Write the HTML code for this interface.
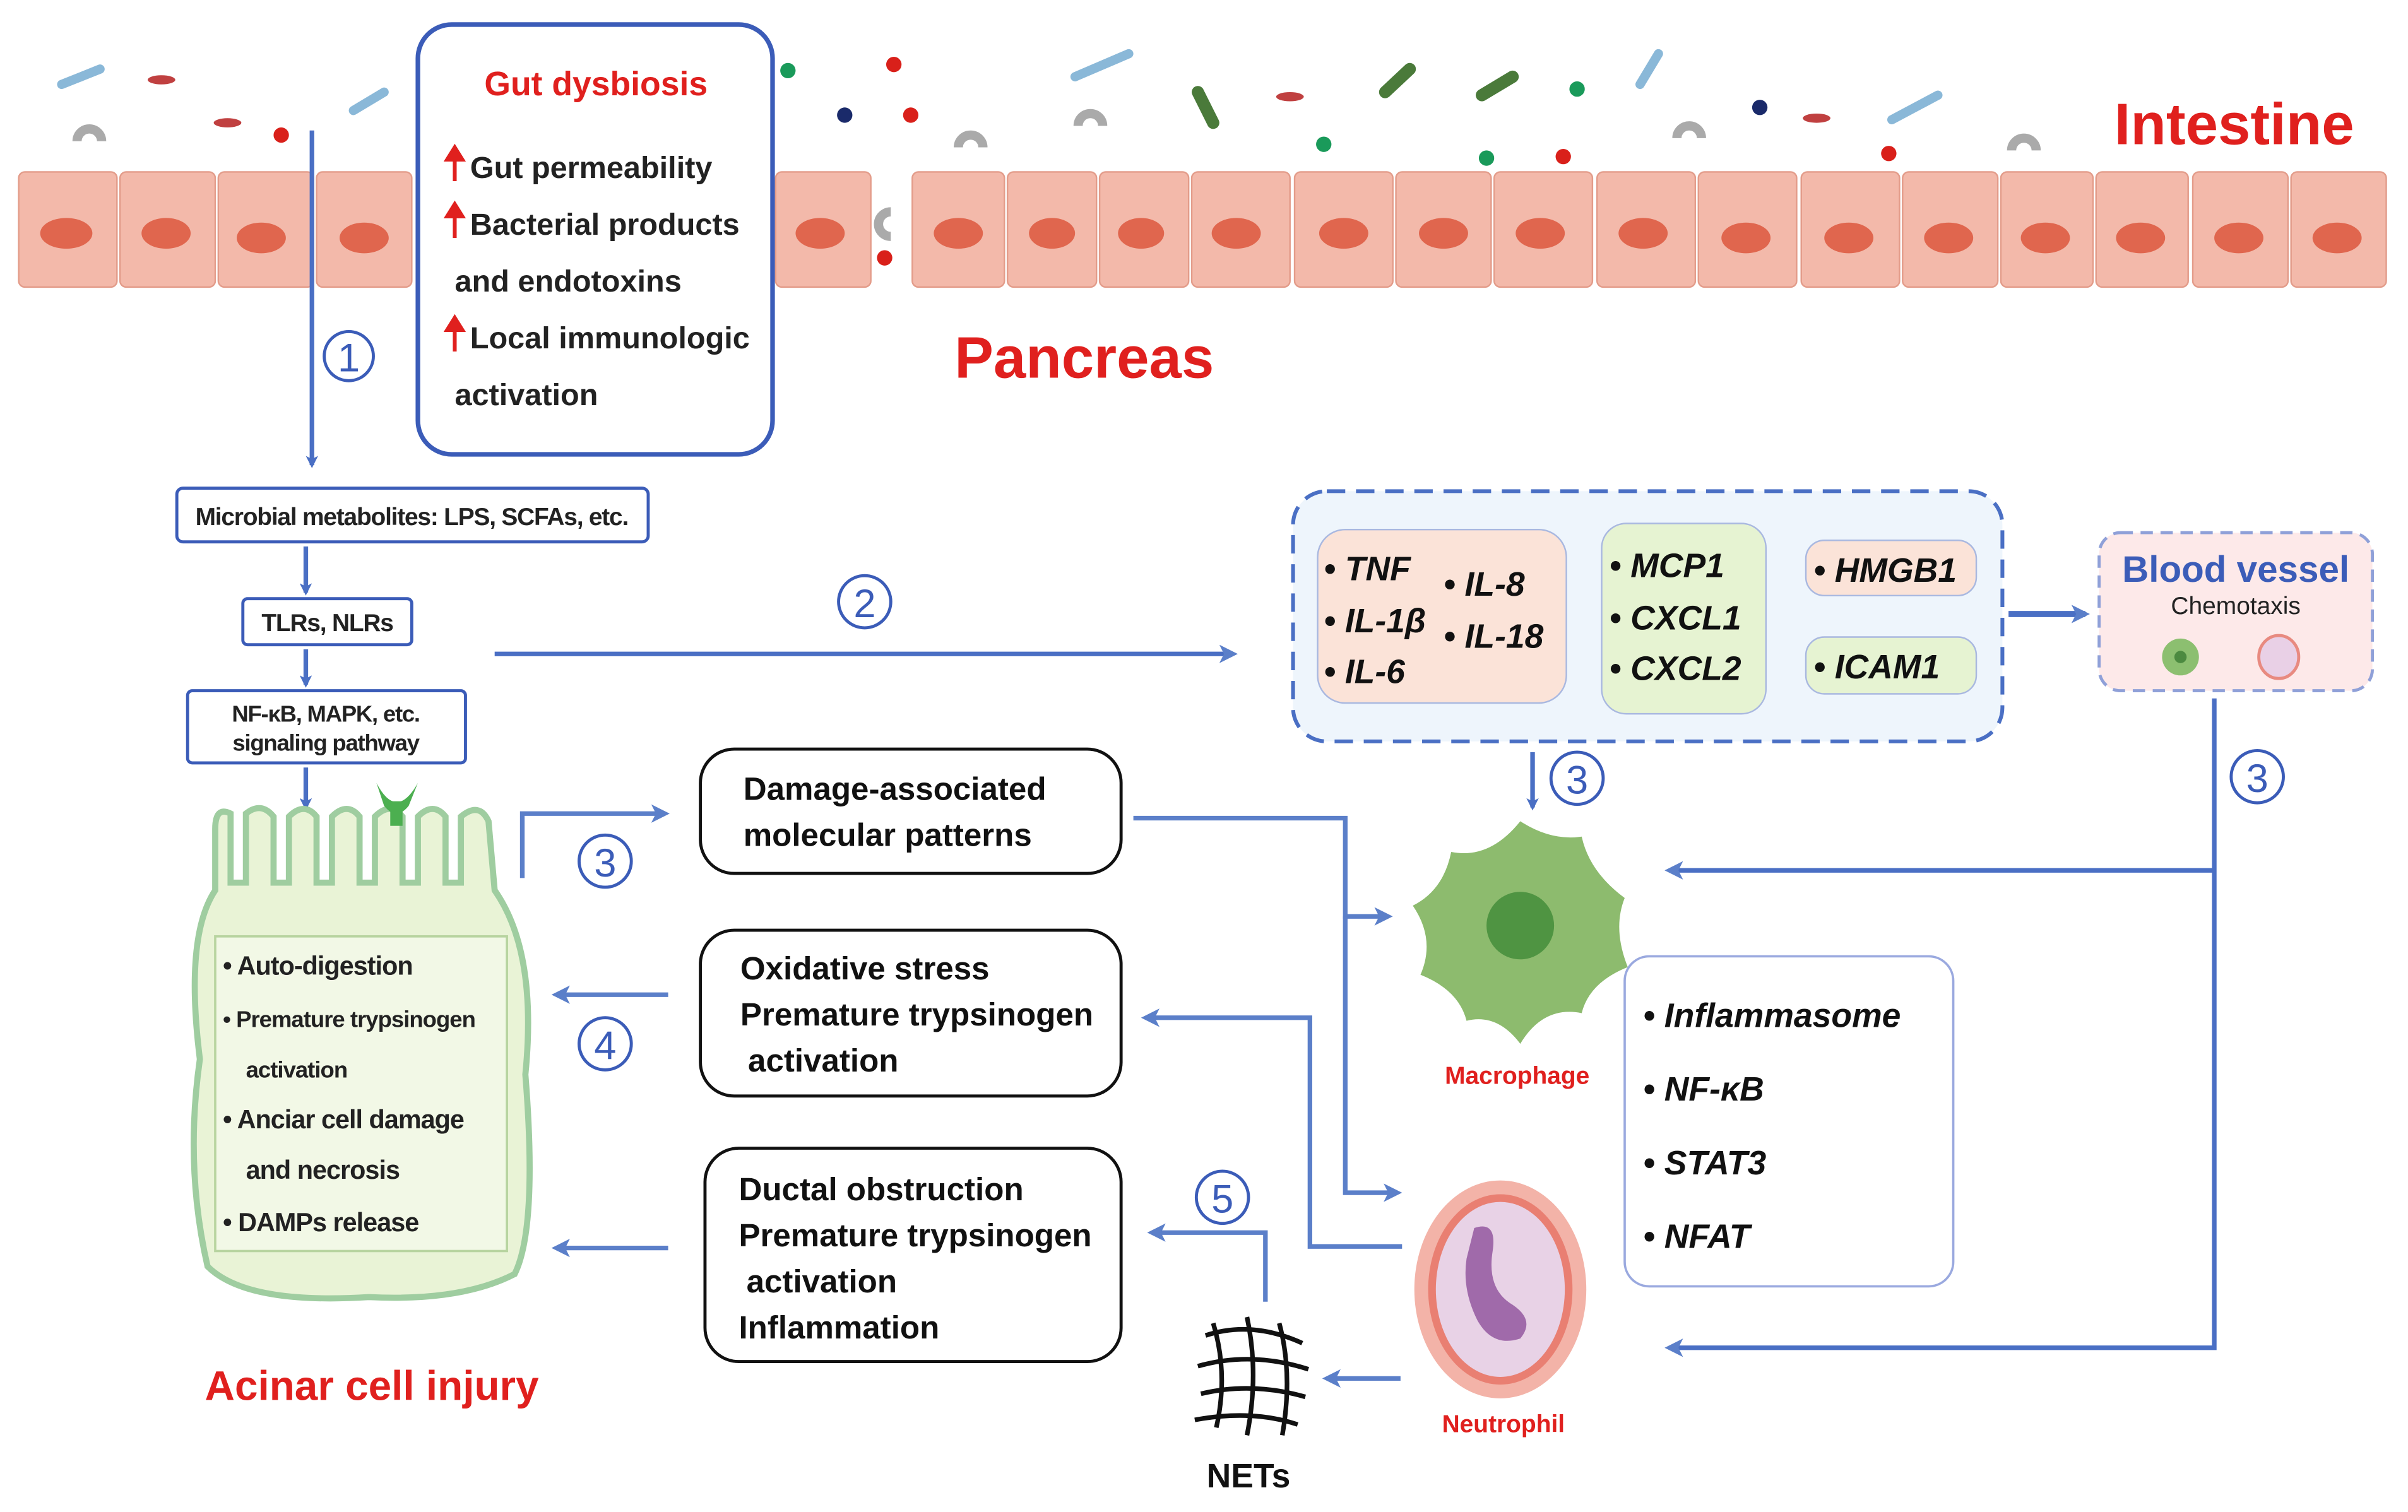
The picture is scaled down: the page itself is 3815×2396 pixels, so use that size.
<!DOCTYPE html>
<html><head><meta charset="utf-8"><style>
html,body{margin:0;padding:0;background:#fff;}
svg{display:block;}
text{font-family:"Liberation Sans",sans-serif;}
</style></head><body>
<svg width="3815" height="2396" viewBox="0 0 1568 985" xmlns="http://www.w3.org/2000/svg">
<defs>
<marker id="ah" markerWidth="8" markerHeight="8" refX="6" refY="4" orient="auto" markerUnits="userSpaceOnUse"><path d="M0,0 L8,4 L0,8 L2,4 Z" fill="#4a6fc4"/></marker>
<marker id="ah2" markerWidth="12" markerHeight="12" refX="9" refY="6" orient="auto" markerUnits="userSpaceOnUse"><path d="M0,0 L12,6 L0,12 L3,6 Z" fill="#5b7fc9"/></marker>
</defs>
<rect width="1568" height="985" fill="#fff"/>
<!-- intestine cells -->
<g>
<g fill="#f3b9aa" stroke="#e39c8a" stroke-width="1">
<rect x="12" y="112" width="64" height="75" rx="4"/><rect x="78" y="112" width="62" height="75" rx="4"/><rect x="142" y="112" width="62" height="75" rx="4"/><rect x="206" y="112" width="62" height="75" rx="4"/>
<rect x="505" y="112" width="62" height="75" rx="4"/><rect x="594" y="112" width="60" height="75" rx="4"/><rect x="656" y="112" width="58" height="75" rx="4"/><rect x="716" y="112" width="58" height="75" rx="4"/><rect x="776" y="112" width="64" height="75" rx="4"/><rect x="843" y="112" width="64" height="75" rx="4"/><rect x="909" y="112" width="62" height="75" rx="4"/><rect x="973" y="112" width="64" height="75" rx="4"/><rect x="1040" y="112" width="64" height="75" rx="4"/><rect x="1106" y="112" width="64" height="75" rx="4"/><rect x="1173" y="112" width="64" height="75" rx="4"/><rect x="1239" y="112" width="62" height="75" rx="4"/><rect x="1303" y="112" width="60" height="75" rx="4"/><rect x="1365" y="112" width="60" height="75" rx="4"/><rect x="1428" y="112" width="62" height="75" rx="4"/><rect x="1492" y="112" width="62" height="75" rx="4"/>
</g>
<g fill="#e0664e">
<ellipse cx="43" cy="152" rx="17" ry="10"/><ellipse cx="108" cy="152" rx="16" ry="10"/><ellipse cx="170" cy="155" rx="16" ry="10"/><ellipse cx="237" cy="155" rx="16" ry="10"/><ellipse cx="534" cy="152" rx="16" ry="10"/><ellipse cx="624" cy="152" rx="16" ry="10"/><ellipse cx="685" cy="152" rx="15" ry="10"/><ellipse cx="743" cy="152" rx="15" ry="10"/><ellipse cx="805" cy="152" rx="16" ry="10"/><ellipse cx="875" cy="152" rx="16" ry="10"/><ellipse cx="940" cy="152" rx="16" ry="10"/><ellipse cx="1003" cy="152" rx="16" ry="10"/><ellipse cx="1070" cy="152" rx="16" ry="10"/><ellipse cx="1137" cy="155" rx="16" ry="10"/><ellipse cx="1204" cy="155" rx="16" ry="10"/><ellipse cx="1269" cy="155" rx="16" ry="10"/><ellipse cx="1332" cy="155" rx="16" ry="10"/><ellipse cx="1394" cy="155" rx="16" ry="10"/><ellipse cx="1458" cy="155" rx="16" ry="10"/><ellipse cx="1522" cy="155" rx="16" ry="10"/>
</g>
<!-- microbes -->
<g stroke-linecap="round">
<line x1="40" y1="55" x2="65" y2="45" stroke="#8ab8d8" stroke-width="6"/><line x1="230" y1="72" x2="250" y2="60" stroke="#8ab8d8" stroke-width="6"/><line x1="700" y1="50" x2="735" y2="35" stroke="#8ab8d8" stroke-width="6"/><line x1="1068" y1="55" x2="1080" y2="35" stroke="#8ab8d8" stroke-width="6"/><line x1="1232" y1="78" x2="1262" y2="62" stroke="#8ab8d8" stroke-width="6"/>
<line x1="780" y1="60" x2="790" y2="80" stroke="#4a7a3a" stroke-width="8"/><line x1="902" y1="60" x2="918" y2="45" stroke="#4a7a3a" stroke-width="8"/><line x1="965" y1="62" x2="985" y2="50" stroke="#4a7a3a" stroke-width="8"/>
</g>
<g fill="#d9201a"><circle cx="183" cy="88" r="5"/><circle cx="582" cy="42" r="5"/><circle cx="593" cy="75" r="5"/><circle cx="1018" cy="102" r="5"/><circle cx="1230" cy="100" r="5"/><circle cx="576" cy="168" r="5"/></g>
<g fill="#1a9a5a"><circle cx="513" cy="46" r="5"/><circle cx="862" cy="94" r="5"/><circle cx="968" cy="103" r="5"/><circle cx="1027" cy="58" r="5"/></g>
<g fill="#1a2a6a"><circle cx="550" cy="75" r="5"/><circle cx="1146" cy="70" r="5"/></g>
<g fill="#c04040"><ellipse cx="105" cy="52" rx="9" ry="3"/><ellipse cx="148" cy="80" rx="9" ry="3"/><ellipse cx="840" cy="63" rx="9" ry="3"/><ellipse cx="1183" cy="77" rx="9" ry="3"/></g>
<g fill="none" stroke="#aaa" stroke-width="6"><path d="M50,92 A8,8 0 0 1 66,92"/><path d="M624,96 A8,8 0 0 1 640,96"/><path d="M702,82 A8,8 0 0 1 718,82"/><path d="M1092,90 A8,8 0 0 1 1108,90"/><path d="M1310,98 A8,8 0 0 1 1326,98"/><path d="M580,138 A8,8 0 0 0 580,154"/></g>
</g>
<!-- gut dysbiosis box -->
<rect x="272" y="16" width="231" height="280" rx="22" fill="#fff" stroke="#3b5cb8" stroke-width="3"/>
<text x="388" y="62" text-anchor="middle" font-size="22" font-weight="bold" fill="#e0201e">Gut dysbiosis</text>
<g font-size="20" font-weight="bold" fill="#222">
<text x="306" y="116">Gut permeability</text>
<text x="306" y="153">Bacterial products</text>
<text x="296" y="190">and endotoxins</text>
<text x="306" y="227">Local immunologic</text>
<text x="296" y="264">activation</text>
</g>
<g stroke="#e0201e" stroke-width="2.5" fill="#e0201e"><line x1="296" y1="118" x2="296" y2="102"/><path d="M291,104 L296,96 L301,104Z"/><line x1="296" y1="155" x2="296" y2="139"/><path d="M291,141 L296,133 L301,141Z"/><line x1="296" y1="229" x2="296" y2="213"/><path d="M291,215 L296,207 L301,215Z"/></g>
<text x="1455" y="94" text-anchor="middle" font-size="38" font-weight="bold" fill="#e0201e">Intestine</text>
<text x="706" y="246" text-anchor="middle" font-size="38" font-weight="bold" fill="#e0201e">Pancreas</text>
<!-- pathway left -->
<line x1="203" y1="85" x2="203" y2="303" stroke="#4a6fc4" stroke-width="3" marker-end="url(#ah)"/>
<g font-size="30" fill="#3b5cb8" text-anchor="middle"><circle cx="227" cy="232" r="16" fill="none" stroke="#3b5cb8" stroke-width="2"/><text x="227" y="242" font-size="26">1</text></g>
<rect x="115" y="318" width="307" height="35" rx="4" fill="#fff" stroke="#3b5cb8" stroke-width="2"/>
<text x="268" y="342" text-anchor="middle" font-size="16" font-weight="bold" letter-spacing="-0.5" fill="#222">Microbial metabolites: LPS, SCFAs, etc.</text>
<line x1="199" y1="356" x2="199" y2="386" stroke="#4a6fc4" stroke-width="3" marker-end="url(#ah)"/>
<rect x="158" y="390" width="110" height="30" rx="3" fill="#fff" stroke="#3b5cb8" stroke-width="2"/>
<text x="213" y="411" text-anchor="middle" font-size="16" font-weight="bold" letter-spacing="-0.5" fill="#222">TLRs, NLRs</text>
<line x1="199" y1="423" x2="199" y2="446" stroke="#4a6fc4" stroke-width="3" marker-end="url(#ah)"/>
<rect x="122" y="450" width="181" height="47" rx="3" fill="#fff" stroke="#3b5cb8" stroke-width="2"/>
<text x="212" y="470" text-anchor="middle" font-size="15" font-weight="bold" letter-spacing="-0.5" fill="#222">NF-κB, MAPK, etc.</text>
<text x="212" y="489" text-anchor="middle" font-size="15" font-weight="bold" letter-spacing="-0.5" fill="#222">signaling pathway</text>
<line x1="199" y1="500" x2="199" y2="526" stroke="#4a6fc4" stroke-width="3" marker-end="url(#ah)"/>
<!-- arrow 2 -->
<line x1="322" y1="426" x2="803" y2="426" stroke="#4a6fc4" stroke-width="3" marker-end="url(#ah2)"/>
<circle cx="563" cy="392" r="17" fill="none" stroke="#3b5cb8" stroke-width="2"/><text x="563" y="402" text-anchor="middle" font-size="26" fill="#3b5cb8">2</text>
<!-- cytokine box -->
<rect x="842" y="320" width="462" height="163" rx="22" fill="#eef5fc" stroke="#4a6fc4" stroke-width="2.5" stroke-dasharray="12,7"/>
<rect x="858" y="345" width="162" height="113" rx="18" fill="#fbe3d8" stroke="#a9b8e0" stroke-width="1"/>
<rect x="1043" y="341" width="107" height="124" rx="16" fill="#e6f3d2" stroke="#a9b8e0" stroke-width="1"/>
<rect x="1176" y="352" width="111" height="36" rx="12" fill="#fbe3d8" stroke="#a9b8e0" stroke-width="1"/>
<rect x="1176" y="415" width="111" height="37" rx="12" fill="#e6f3d2" stroke="#a9b8e0" stroke-width="1"/>
<g font-size="22" font-weight="bold" font-style="italic" fill="#111">
<text x="862" y="378">• TNF</text><text x="862" y="412">• IL-1β</text><text x="862" y="445">• IL-6</text>
<text x="940" y="388">• IL-8</text><text x="940" y="422">• IL-18</text>
<text x="1048" y="376">• MCP1</text><text x="1048" y="410">• CXCL1</text><text x="1048" y="443">• CXCL2</text>
<text x="1181" y="379">• HMGB1</text><text x="1181" y="442">• ICAM1</text>
</g>
<line x1="1308" y1="400" x2="1358" y2="400" stroke="#4a6fc4" stroke-width="4" marker-end="url(#ah2)"/>
<rect x="1367" y="347" width="178" height="103" rx="14" fill="#fde9e9" stroke="#8fa0d8" stroke-width="2" stroke-dasharray="8,5"/>
<text x="1456" y="379" text-anchor="middle" font-size="24" font-weight="bold" fill="#3b5cb8">Blood vessel</text>
<text x="1456" y="400" text-anchor="middle" font-size="16" fill="#222">Chemotaxis</text>
<circle cx="1420" cy="428" r="12" fill="#8cbf70"/><circle cx="1420" cy="428" r="4" fill="#4c8a40"/>
<ellipse cx="1484" cy="428" rx="13" ry="14" fill="#e9d0e6" stroke="#e88a80" stroke-width="2"/>
<!-- arrow 3 from vessel -->
<polyline points="1442,455 1442,878 1087,878" fill="none" stroke="#4a6fc4" stroke-width="3" marker-end="url(#ah2)"/>
<line x1="1442" y1="567" x2="1087" y2="567" stroke="#4a6fc4" stroke-width="3" marker-end="url(#ah2)"/>
<circle cx="1470" cy="506" r="17" fill="none" stroke="#3b5cb8" stroke-width="2"/><text x="1470" y="516" text-anchor="middle" font-size="26" fill="#3b5cb8">3</text>
<line x1="998" y1="490" x2="998" y2="526" stroke="#4a6fc4" stroke-width="3" marker-end="url(#ah)"/>
<circle cx="1027" cy="507" r="17" fill="none" stroke="#3b5cb8" stroke-width="2"/><text x="1027" y="517" text-anchor="middle" font-size="26" fill="#3b5cb8">3</text>
<!-- macrophage -->
<path d="M990,535 Q1010,548 1030,545 Q1035,568 1058,585 Q1050,605 1060,630 Q1035,640 1030,660 Q1005,655 990,680 Q975,660 955,665 Q950,645 925,635 Q935,612 920,590 Q940,580 945,555 Q970,560 990,535Z" fill="#8dbb6e"/>
<circle cx="990" cy="603" r="22" fill="#4f9442"/>
<text x="988" y="706" text-anchor="middle" font-size="16" font-weight="bold" fill="#e0201e">Macrophage</text>
<rect x="1058" y="623" width="214" height="215" rx="16" fill="#fff" stroke="#9aa9df" stroke-width="1.5"/>
<g font-size="22" font-weight="bold" font-style="italic" fill="#111">
<text x="1070" y="669">• Inflammasome</text><text x="1070" y="717">• NF-κB</text><text x="1070" y="765">• STAT3</text><text x="1070" y="813">• NFAT</text>
</g>
<!-- neutrophil -->
<ellipse cx="977" cy="840" rx="56" ry="71" fill="#f3b3a8"/>
<ellipse cx="977" cy="840" rx="47" ry="62" fill="#e97f72"/>
<ellipse cx="977" cy="840" rx="42" ry="57" fill="#e8d2e6"/>
<path d="M960,800 Q975,795 972,815 Q968,840 985,850 Q1000,860 990,872 Q972,878 962,860 Q952,840 955,820Z" fill="#a06aaa"/>
<text x="979" y="933" text-anchor="middle" font-size="16" font-weight="bold" fill="#e0201e">Neutrophil</text>
<!-- NETs -->
<g stroke="#111" stroke-width="3" fill="none"><path d="M785,870 Q815,860 848,875"/><path d="M780,890 Q815,880 852,892"/><path d="M782,908 Q815,900 850,910"/><path d="M790,862 Q800,895 792,930"/><path d="M812,858 Q820,895 812,935"/><path d="M833,862 Q842,895 835,935"/><path d="M778,925 Q815,918 845,928"/></g>
<text x="813" y="969" text-anchor="middle" font-size="22" font-weight="bold" fill="#111">NETs</text>
<!-- acinar cell -->
<path d="M140,540 Q140,525 150,530 L150,575 L160,575 L160,530 Q170,522 178,532 L178,575 L188,575 L188,532 Q198,522 206,532 L206,575 L216,575 L216,532 Q226,522 234,532 L234,575 L244,575 L244,532 Q254,522 262,532 L262,575 L272,575 L272,532 Q282,522 290,532 L290,575 L300,575 L300,532 Q312,522 318,535 L322,580 Q350,620 342,700 Q350,800 335,830 Q300,848 240,845 Q160,850 135,825 Q120,760 130,690 Q120,610 140,580Z" fill="#e9f3d6" stroke="#9fcda0" stroke-width="4"/>
<path d="M245,510 Q258,535 272,510 L266,525 Q258,535 250,525Z" fill="#4caf50"/><rect x="254" y="522" width="8" height="16" fill="#4caf50"/>
<rect x="140" y="610" width="190" height="205" fill="#f2f8e6" stroke="#b8d4a0" stroke-width="1.5"/>
<g font-size="17" font-weight="bold" fill="#222" letter-spacing="-0.4">
<text x="145" y="635">• Auto-digestion</text>
<text x="145" y="669" font-size="15">• Premature trypsinogen</text>
<text x="160" y="702" font-size="15">activation</text>
<text x="145" y="735">• Anciar cell damage</text>
<text x="160" y="768">and necrosis</text>
<text x="145" y="802">• DAMPs release</text>
</g>
<text x="242" y="912" text-anchor="middle" font-size="27" font-weight="bold" fill="#e0201e">Acinar cell injury</text>
<!-- middle boxes -->
<rect x="456" y="488" width="274" height="81" rx="22" fill="#fff" stroke="#111" stroke-width="2"/>
<text x="484" y="521" font-size="21" font-weight="bold" fill="#111">Damage-associated</text>
<text x="484" y="551" font-size="21" font-weight="bold" fill="#111">molecular patterns</text>
<rect x="456" y="606" width="274" height="108" rx="22" fill="#fff" stroke="#111" stroke-width="2"/>
<text x="482" y="638" font-size="21" font-weight="bold" fill="#111">Oxidative stress</text>
<text x="482" y="668" font-size="21" font-weight="bold" fill="#111">Premature trypsinogen</text>
<text x="487" y="698" font-size="21" font-weight="bold" fill="#111">activation</text>
<rect x="459" y="748" width="271" height="139" rx="22" fill="#fff" stroke="#111" stroke-width="2"/>
<text x="481" y="782" font-size="21" font-weight="bold" fill="#111">Ductal obstruction</text>
<text x="481" y="812" font-size="21" font-weight="bold" fill="#111">Premature trypsinogen</text>
<text x="486" y="842" font-size="21" font-weight="bold" fill="#111">activation</text>
<text x="481" y="872" font-size="21" font-weight="bold" fill="#111">Inflammation</text>
<!-- arrows between -->
<g stroke="#5b7fc9" stroke-width="3" fill="none">
<polyline points="340,572 340,530 433,530" marker-end="url(#ah2)"/>
<line x1="435" y1="648" x2="362" y2="648" marker-end="url(#ah2)"/>
<line x1="435" y1="813" x2="362" y2="813" marker-end="url(#ah2)"/>
<polyline points="738,533 876,533 876,597 904,597" marker-end="url(#ah2)"/>
<polyline points="876,597 876,777 910,777" marker-end="url(#ah2)"/>
<polyline points="913,812 853,812 853,663 746,663" marker-end="url(#ah2)"/>
<line x1="912" y1="898" x2="864" y2="898" marker-end="url(#ah2)"/>
<polyline points="824,848 824,803 750,803" marker-end="url(#ah2)"/>
</g>
<circle cx="394" cy="561" r="17" fill="none" stroke="#3b5cb8" stroke-width="2"/><text x="394" y="571" text-anchor="middle" font-size="26" fill="#3b5cb8">3</text>
<circle cx="394" cy="680" r="17" fill="none" stroke="#3b5cb8" stroke-width="2"/><text x="394" y="690" text-anchor="middle" font-size="26" fill="#3b5cb8">4</text>
<circle cx="796" cy="780" r="17" fill="none" stroke="#3b5cb8" stroke-width="2"/><text x="796" y="790" text-anchor="middle" font-size="26" fill="#3b5cb8">5</text>
</svg>
</body></html>
